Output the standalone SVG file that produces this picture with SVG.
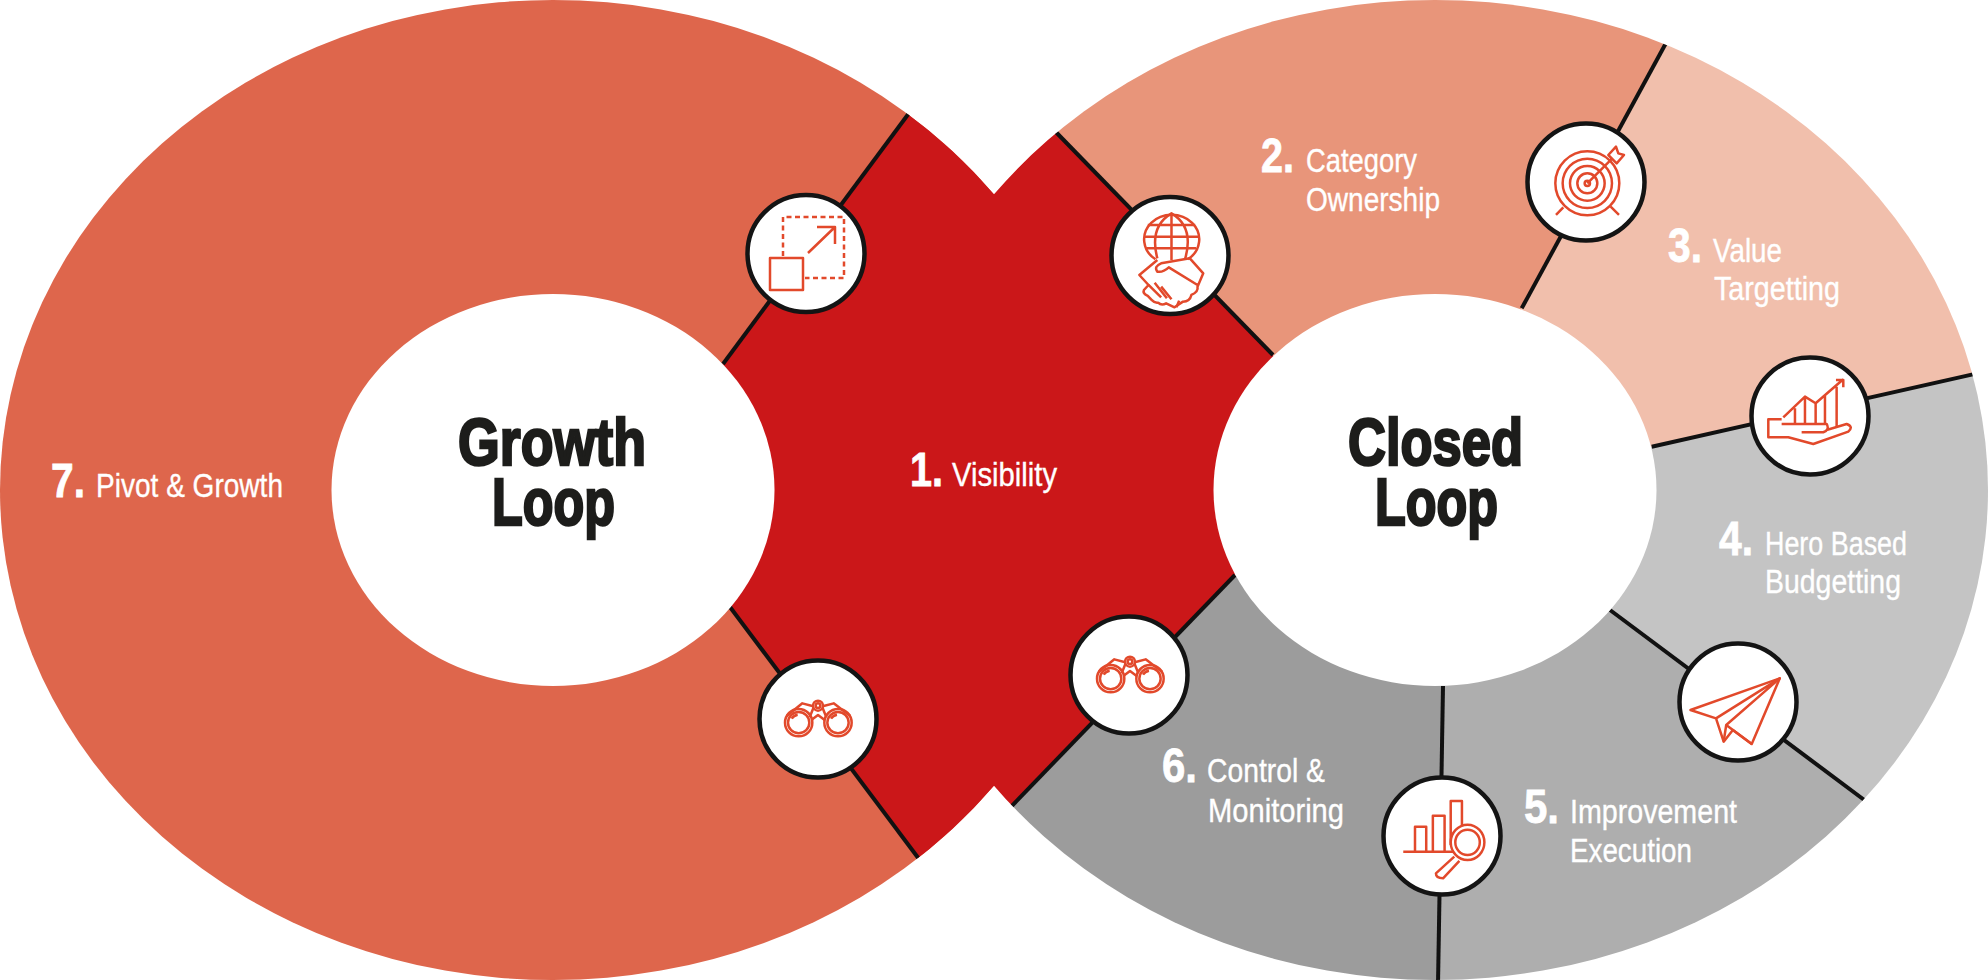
<svg xmlns="http://www.w3.org/2000/svg" width="1988" height="980" viewBox="0 0 1988 980">
<style>
text{font-family:"Liberation Sans",Arial,sans-serif;fill:#fff}
.n{font-size:49px;font-weight:700;stroke:#fff;stroke-width:.8px}
.l{font-size:33px;stroke:#fff;stroke-width:.35px}
.t{font-size:66px;font-weight:700;fill:#1d1d1b;stroke:#1d1d1b;stroke-width:2.6px}
.hub{fill:#fff}
.badge{fill:#fff;stroke:#141414;stroke-width:4.5px}
.i{fill:none;stroke:#e2492b;stroke-width:2.5px;stroke-linejoin:round;vector-effect:non-scaling-stroke}
.i *{vector-effect:non-scaling-stroke}
#connectors line{stroke:#111;stroke-width:4px}
</style>
<defs>
<clipPath id="union"><ellipse cx="553" cy="490" rx="553" ry="490"/><ellipse cx="1435" cy="490" rx="553" ry="490"/></clipPath>
<clipPath id="rightE"><ellipse cx="1435" cy="490" rx="553" ry="490"/></clipPath>
<g id="bino" class="i">
<circle cx="237" cy="308" r="41"/><circle cx="237" cy="308" r="32"/><path d="M216 296Q222 286 234 284"/>
<circle cx="355" cy="308" r="41"/><circle cx="355" cy="308" r="32"/><path d="M334 296Q340 286 352 284"/>
<circle cx="295" cy="257" r="15"/><circle cx="295" cy="257" r="7"/>
<path d="M201 288L248 250L278 258M392 288L342 250L312 258M270 292L282 262M320 292L308 262M275 300L295 285L315 300"/>
</g>
</defs>
<rect width="1988" height="980" fill="#fff"/>

<g id="node-7"><ellipse cx="553" cy="490" rx="553" ry="490" fill="#de664c"/>
<text class="n" x="51" y="497" textLength="34" lengthAdjust="spacingAndGlyphs">7.</text>
<text class="l" x="96" y="497" textLength="187" lengthAdjust="spacingAndGlyphs">Pivot &amp; Growth</text></g>

<g id="node-2"><polygon clip-path="url(#rightE)" points="1435,490 1273,355 1030,106 1030,-10 1689,0 1521.7,308.3" fill="#e8957a"/>
<text class="n" x="1261" y="172" textLength="33" lengthAdjust="spacingAndGlyphs">2.</text>
<text class="l" x="1306" y="172" textLength="111" lengthAdjust="spacingAndGlyphs">Category</text>
<text class="l" x="1306" y="211" textLength="134" lengthAdjust="spacingAndGlyphs">Ownership</text></g>

<g id="node-3"><polygon clip-path="url(#rightE)" points="1435,490 1521.7,308.3 1689,0 2000,0 2000,368 1651.7,446.7" fill="#f1bfac"/>
<text class="n" x="1668" y="262" textLength="34" lengthAdjust="spacingAndGlyphs">3.</text>
<text class="l" x="1713" y="262" textLength="69" lengthAdjust="spacingAndGlyphs">Value</text>
<text class="l" x="1714" y="300" textLength="126" lengthAdjust="spacingAndGlyphs">Targetting</text></g>

<g id="node-4"><polygon clip-path="url(#rightE)" points="1435,490 1651.7,446.7 2000,368 2000,1000 1900,827 1610,610" fill="#c4c4c4"/>
<text class="n" x="1719" y="555" textLength="34" lengthAdjust="spacingAndGlyphs">4.</text>
<text class="l" x="1765" y="555" textLength="142" lengthAdjust="spacingAndGlyphs">Hero Based</text>
<text class="l" x="1765" y="593" textLength="136" lengthAdjust="spacingAndGlyphs">Budgetting</text></g>

<g id="node-5"><polygon clip-path="url(#rightE)" points="1435,490 1610,610 1900,827 1900,990 1437,990 1443,686" fill="#aeaeae"/>
<text class="n" x="1524" y="823" textLength="35" lengthAdjust="spacingAndGlyphs">5.</text>
<text class="l" x="1570" y="823" textLength="167" lengthAdjust="spacingAndGlyphs">Improvement</text>
<text class="l" x="1570" y="862" textLength="122" lengthAdjust="spacingAndGlyphs">Execution</text></g>

<g id="node-6"><polygon clip-path="url(#rightE)" points="1435,490 1443,686 1437,990 960,990 990,828 1235,575" fill="#9c9c9c"/>
<text class="n" x="1162" y="782" textLength="35" lengthAdjust="spacingAndGlyphs">6.</text>
<text class="l" x="1207" y="782" textLength="118" lengthAdjust="spacingAndGlyphs">Control &amp;</text>
<text class="l" x="1208" y="822" textLength="136" lengthAdjust="spacingAndGlyphs">Monitoring</text></g>

<g id="node-1"><polygon clip-path="url(#union)" points="700,394 930,85 995,40 1030,106 1300,383 1260,549 990,828 995,940 940,887 700,567" fill="#cb1719"/>
<text class="n" x="910" y="486" textLength="33" lengthAdjust="spacingAndGlyphs">1.</text>
<text class="l" x="952" y="486" textLength="105" lengthAdjust="spacingAndGlyphs">Visibility</text></g>

<g id="connectors" clip-path="url(#union)">
<line x1="723" y1="364" x2="915" y2="105"/>
<line x1="730" y1="607" x2="925" y2="867"/>
<line x1="1273" y1="355" x2="1050" y2="126"/>
<line x1="1235" y1="575" x2="1005" y2="813"/>
<line x1="1521.7" y1="308.3" x2="1672" y2="32"/>
<line x1="1651.7" y1="446.7" x2="1985" y2="371.6"/>
<line x1="1610" y1="610" x2="1875" y2="808"/>
<line x1="1443" y1="686" x2="1438" y2="985"/>
</g>

<g id="hub-growth"><ellipse class="hub" cx="553" cy="490" rx="221.5" ry="196"/>
<text class="t" x="458" y="465" textLength="188" lengthAdjust="spacingAndGlyphs">Growth</text>
<text class="t" x="492" y="525" textLength="123" lengthAdjust="spacingAndGlyphs">Loop</text></g>
<g id="hub-closed"><ellipse class="hub" cx="1435" cy="490" rx="221.5" ry="196"/>
<text class="t" x="1348" y="465" textLength="175" lengthAdjust="spacingAndGlyphs">Closed</text>
<text class="t" x="1375" y="525" textLength="123" lengthAdjust="spacingAndGlyphs">Loop</text></g>

<g id="icon-resize"><circle class="badge" cx="806" cy="253.5" r="58.5"/>
<g class="i"><rect x="770" y="258" width="33" height="32"/>
<path stroke-dasharray="5 3.5" d="M783 256V217H844V278H805"/>
<path d="M808 253L835 227M817 227H835V244"/></g></g>

<g id="icon-globe"><circle class="badge" cx="1170" cy="255.5" r="58.5"/>
<g class="i" transform="translate(700 90) scale(.3827 .3333)">
<path d="M1190 508A72 74 0 1 1 1275 508"/>
<path d="M1232 370V510M1195 505C1180 440 1195 395 1232 370C1269 395 1284 440 1268 505M1170 405H1294M1160 440H1302M1168 475H1296"/>
<path d="M1195 510L1148 555L1172 585L1160 600Q1156 610 1170 618L1180 630Q1188 640 1197 638Q1206 648 1218 640L1240 652L1262 635Q1280 635 1284 615Q1303 605 1300 590L1315 550L1280 505L1205 520Q1185 530 1195 545Q1210 548 1225 532L1300 585"/>
<path d="M1172 585L1205 622M1188 578L1220 625M1205 590L1232 628M1245 652L1252 632"/></g></g>

<g id="icon-target"><circle class="badge" cx="1586" cy="182" r="58.5"/>
<g class="i" transform="translate(1480 100) scale(.3333)">
<circle cx="322" cy="250" r="96"/><circle cx="322" cy="250" r="74"/><circle cx="322" cy="250" r="52"/><circle cx="322" cy="250" r="30"/><circle cx="322" cy="250" r="8"/>
<path d="M322 250L397 175M250 322L228 345M392 320L417 345M385 165L408 140L415 160L432 165L410 190Z"/></g></g>

<g id="icon-hand"><circle class="badge" cx="1810" cy="416" r="58.5"/>
<g class="i" transform="translate(1480 100) scale(.3333)">
<path d="M905 958H865V1012H925L1000 1032L1105 995Q1122 980 1100 972L1040 990M965 997H1030Q1050 990 1040 972H905"/>
<path d="M910 952L975 890L1007 910L1090 838M1068 840H1090V862M945 925V972M975 890V972M1007 910V972M1035 885V972M1070 860V978"/></g></g>

<g id="icon-plane"><circle class="badge" cx="1738" cy="702" r="58.5"/>
<g class="i" transform="translate(1040 600) scale(.5102 .3333)">
<path d="M1450 235L1275 330L1325 355L1340 425L1358 390L1395 432Z"/><path d="M1325 355L1450 235L1345 375L1395 432M1345 375L1340 425"/></g></g>

<g id="icon-chart"><circle class="badge" cx="1442" cy="836" r="58.5"/>
<g class="i" transform="translate(1040 600) scale(.5102 .3333)">
<path d="M712 755H810M735 755V680H757V755M770 755V647H793V755M805 735V603H827V675"/>
<ellipse cx="838" cy="727" rx="33" ry="53"/><ellipse cx="838" cy="727" rx="24" ry="38"/>
<path d="M812 770L776 820Q776 835 790 835L822 783"/></g></g>

<g id="icon-binoculars-right"><circle class="badge" cx="1129" cy="675" r="58.5"/>
<use href="#bino" transform="translate(1130 675) scale(.3333) translate(-295 -297)"/></g>
<g id="icon-binoculars-left"><circle class="badge" cx="818" cy="719" r="58.5"/>
<use href="#bino" transform="translate(818 719) scale(.3333) translate(-295 -297)"/></g>
</svg>
